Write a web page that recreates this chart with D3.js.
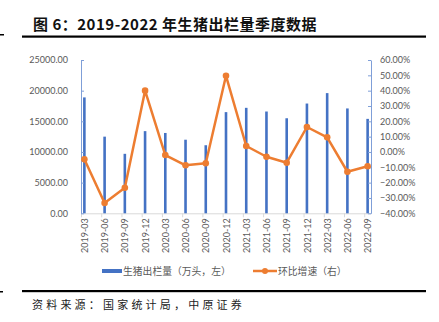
<!DOCTYPE html>
<html><head><meta charset="utf-8">
<script src="https://cdn.jsdelivr.net/npm/d3@7"></script>
<style>
html,body{margin:0;padding:0;background:#fff;}
svg{display:block;}
</style></head>
<body>
<svg id="chart" width="439" height="322"></svg>
<script>
const categories = ["2019-03","2019-06","2019-09","2019-12","2020-03","2020-06","2020-09","2020-12","2021-03","2021-06","2021-09","2021-12","2022-03","2022-06","2022-09"];
const output = [18900, 12500, 9700, 13400, 13100, 12000, 11100, 16500, 17200, 16600, 15500, 17900, 19600, 17100, 15400];
const growth = [-4.8, -33.3, -23.3, 40.0, -2.0, -8.7, -7.4, 49.7, 3.9, -3.1, -7.0, 16.3, 9.6, -12.9, -9.3];
const leftTicks = [0, 5000, 10000, 15000, 20000, 25000];
const rightTicks = [-40, -30, -20, -10, 0, 10, 20, 30, 40, 50, 60];
const title = "图 6：2019-2022 年生猪出栏量季度数据";
const source = "资料来源：国家统计局，中原证券";
const legendBar = "生猪出栏量（万头，左）";
const legendLine = "环比增速（右）";

const svg = d3.select("#chart");
const blue = "#4472C4", orange = "#ED7D31", gray = "#595959";
const axisBlue = "#7F9FD8";
const cjk = "'Noto Sans CJK SC', sans-serif";
const num = "Lato, 'Liberation Sans', sans-serif";

// header
svg.append("text").attr("x", 33).attr("y", 30).text(title)
  .attr("font-family", cjk).attr("font-weight", "bold").attr("font-size", 15).attr("letter-spacing", 0.5).attr("fill", "#111");
svg.append("rect").attr("x", 22).attr("y", 35.5).attr("width", 404).attr("height", 2.2).attr("fill", "#000");
svg.append("rect").attr("x", 0).attr("y", 34).attr("width", 4).attr("height", 1.5).attr("fill", "#000");
// footer
svg.append("rect").attr("x", 22).attr("y", 290).attr("width", 404).attr("height", 2.2).attr("fill", "#000");
svg.append("rect").attr("x", 0).attr("y", 291).attr("width", 3).attr("height", 1.5).attr("fill", "#000");
svg.append("text").attr("x", 32).attr("y", 308.5).text(source)
  .attr("font-family", cjk).attr("font-size", 11).attr("letter-spacing", 3.2).attr("fill", "#222");

// scales
const months = categories.map((c, i) => i * 3);
const x = d3.scaleLinear().domain([-0.5, 42.5]).range([81, 371]);
const yL = d3.scaleLinear().domain([0, 25000]).range([213.3, 60]);
const yR = d3.scaleLinear().domain([-40, 60]).range([213.3, 60]);

// bottom axis (boundaries)
const xb = svg.append("g").attr("transform", "translate(0,213.3)")
  .call(d3.axisBottom(x).tickValues(months.map(m => m - 0.5)).tickFormat("").tickSizeInner(4).tickSizeOuter(0));
xb.select(".domain").attr("stroke", "#D9D9D9").attr("stroke-width", 1);
xb.selectAll(".tick line").attr("stroke", "#D9D9D9");

// x labels
const xl = svg.append("g").attr("transform", "translate(0,213.3)")
  .call(d3.axisBottom(x).tickValues(months).tickFormat((d, i) => categories[i]).tickSize(0));
xl.select(".domain").remove();
xl.selectAll(".tick text")
  .attr("transform", "rotate(-90)").attr("text-anchor", "end")
  .attr("x", -5).attr("y", 0).attr("dy", "0.35em")
  .attr("font-family", num).attr("font-size", 9).attr("fill", gray);

// bars
svg.append("g").selectAll("rect").data(output).join("rect")
  .attr("x", (d, i) => x(months[i]) - 1.3).attr("width", 2.6)
  .attr("y", d => yL(d)).attr("height", d => yL(0) - yL(d))
  .attr("fill", blue);

// left axis
const la = svg.append("g").attr("transform", "translate(81,0)")
  .call(d3.axisLeft(yL).tickValues(leftTicks).tickFormat(d3.format(".2f")).tickSizeInner(-3).tickSizeOuter(0).tickPadding(13));
la.select(".domain").attr("stroke", axisBlue);
la.selectAll(".tick line").attr("stroke", axisBlue);
la.selectAll(".tick text").attr("font-family", num).attr("font-size", 9).attr("fill", gray);

// right axis
const ra = svg.append("g").attr("transform", "translate(371,0)")
  .call(d3.axisRight(yR).tickValues(rightTicks).tickFormat(d => d3.format(".2f")(d) + "%").tickSizeInner(-3).tickSizeOuter(0).tickPadding(9));
ra.select(".domain").attr("stroke", axisBlue);
ra.selectAll(".tick line").attr("stroke", axisBlue);
ra.selectAll(".tick text").attr("font-family", num).attr("font-size", 9).attr("fill", gray);

// line
const line = d3.line().x((d, i) => x(months[i])).y(d => yR(d));
svg.append("path").datum(growth).attr("d", line)
  .attr("fill", "none").attr("stroke", orange).attr("stroke-width", 2.5).attr("stroke-linejoin", "round");
svg.append("g").selectAll("circle").data(growth).join("circle")
  .attr("cx", (d, i) => x(months[i])).attr("cy", d => yR(d)).attr("r", 3.3).attr("fill", orange);

// legend
const lg = svg.append("g");
lg.append("rect").attr("x", 102).attr("y", 269).attr("width", 20).attr("height", 4).attr("fill", blue);
lg.append("text").attr("x", 123).attr("y", 274.5).text(legendBar)
  .attr("font-family", cjk).attr("font-size", 9.8).attr("fill", gray);
lg.append("line").attr("x1", 253).attr("x2", 277).attr("y1", 271).attr("y2", 271)
  .attr("stroke", orange).attr("stroke-width", 2.5);
lg.append("circle").attr("cx", 265).attr("cy", 271).attr("r", 3).attr("fill", orange);
lg.append("text").attr("x", 278).attr("y", 274.5).text(legendLine)
  .attr("font-family", cjk).attr("font-size", 9.8).attr("fill", gray);
</script>
</body></html>
